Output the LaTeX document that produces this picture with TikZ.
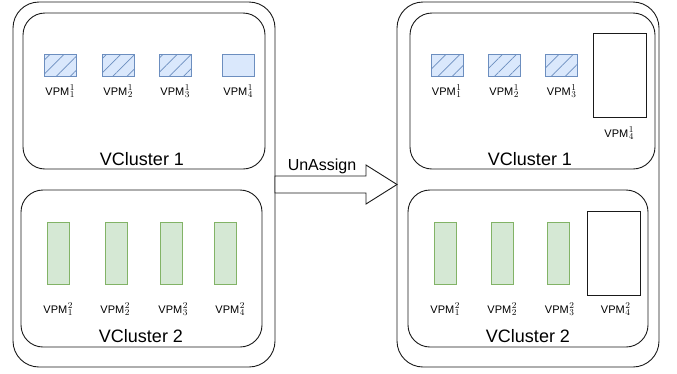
\documentclass[tikz,border=0pt]{standalone}
\usepackage{fontspec}
\setmainfont{Liberation Sans}
\usetikzlibrary{patterns.meta}
\definecolor{bluefill}{HTML}{DAE8FC}
\definecolor{bluedraw}{HTML}{6C8EBF}
\definecolor{greenfill}{HTML}{D5E8D4}
\definecolor{greendraw}{HTML}{82B366}
\definecolor{linegray}{HTML}{1A1A1A}
\newcommand\vpmlab[2]{VPM\kern0.6pt\rlap{\raisebox{4.8pt}{\fontsize{9}{9}\selectfont$#1$}}\raisebox{-2.7pt}{\fontsize{9}{9}\selectfont$#2$}}
\begin{document}
\begin{tikzpicture}[x=1pt,y=-1pt,
  outerbox/.style={draw=linegray,line width=0.9pt,rounded corners=26pt,inner sep=0pt},
  clusterbox/.style={draw=linegray,line width=0.9pt,rounded corners=22pt,inner sep=0pt},
  hatchbox/.style={draw=bluedraw,fill=bluefill,line width=0.9pt,inner sep=0pt,minimum width=32pt,minimum height=22pt,
    postaction={pattern={Lines[angle=45,distance=10pt,line width=0.7pt]},pattern color=bluedraw}},
  plainblue/.style={draw=bluedraw,fill=bluefill,line width=0.9pt,inner sep=0pt,minimum width=32pt,minimum height=22pt},
  greenbox/.style={draw=greendraw,fill=greenfill,line width=0.9pt,inner sep=0pt,minimum width=22pt,minimum height=62pt},
  emptybox/.style={draw=linegray,fill=white,line width=0.9pt,inner sep=0pt},
  vpm/.style={anchor=base,inner sep=0pt,font=\fontsize{11}{13}\selectfont},
  clabel/.style={anchor=base,inner sep=0pt,font=\fontsize{18}{21}\selectfont},
  arrowlabel/.style={anchor=base,inner sep=0pt,font=\fontsize{16}{19}\selectfont}]
\useasboundingbox (0,0) rectangle (677,373);
% outer boxes
\node[outerbox,minimum width=262pt,minimum height=365pt] (L) at (144,184.5) {};
\node[outerbox,minimum width=262pt,minimum height=365pt] (R) at (528,184.5) {};
% cluster boxes
\node[clusterbox,minimum width=242pt,minimum height=156pt] (L1) at (144,91) {};
\node[clusterbox,minimum width=241pt,minimum height=157pt] (L2) at (141.5,268.5) {};
\node[clusterbox,minimum width=245pt,minimum height=156pt] (R1) at (532.5,91) {};
\node[clusterbox,minimum width=240pt,minimum height=157pt] (R2) at (528,268.5) {};
% left top VPMs
\node[hatchbox] (a1) at (60.5,65) {};
\node[hatchbox] (a2) at (118,65) {};
\node[hatchbox] (a3) at (175,65) {};
\node[plainblue] (a4) at (238,65) {};
\node[vpm] (la1) at (60,95) {\vpmlab{1}{1}};
\node[vpm] (la2) at (118,95) {\vpmlab{1}{2}};
\node[vpm] (la3) at (175,95) {\vpmlab{1}{3}};
\node[vpm] (la4) at (238,95) {\vpmlab{1}{4}};
\node[clabel] (t1) at (142,165) {VCluster 1};
% left bottom VPMs
\node[greenbox] (b1) at (58,253) {};
\node[greenbox] (b2) at (116,253) {};
\node[greenbox] (b3) at (171,253) {};
\node[greenbox] (b4) at (225,253) {};
\node[vpm] (lb1) at (58,313) {\vpmlab{2}{1}};
\node[vpm] (lb2) at (115,313) {\vpmlab{2}{2}};
\node[vpm] (lb3) at (173,313) {\vpmlab{2}{3}};
\node[vpm] (lb4) at (230,313) {\vpmlab{2}{4}};
\node[clabel] (t2) at (141,342) {VCluster 2};
% right top VPMs
\node[hatchbox] (c1) at (447,65) {};
\node[hatchbox] (c2) at (504,65) {};
\node[hatchbox] (c3) at (561,65) {};
\node[emptybox,minimum width=53pt,minimum height=84pt] (c4) at (619.5,75) {};
\node[vpm] (lc1) at (446.5,95) {\vpmlab{1}{1}};
\node[vpm] (lc2) at (504,95) {\vpmlab{1}{2}};
\node[vpm] (lc3) at (561.5,95) {\vpmlab{1}{3}};
\node[vpm] (lc4) at (619,137) {\vpmlab{1}{4}};
\node[clabel] (t3) at (530,165) {VCluster 1};
% right bottom VPMs
\node[greenbox] (d1) at (445,253) {};
\node[greenbox] (d2) at (502,253) {};
\node[greenbox] (d3) at (558,253) {};
\node[emptybox,minimum width=53pt,minimum height=84pt] (d4) at (613.5,253) {};
\node[vpm] (ld1) at (445,313) {\vpmlab{2}{1}};
\node[vpm] (ld2) at (502,313) {\vpmlab{2}{2}};
\node[vpm] (ld3) at (559.5,313) {\vpmlab{2}{3}};
\node[vpm] (ld4) at (615.5,313) {\vpmlab{2}{4}};
\node[clabel] (t4) at (528,342) {VCluster 2};
% arrow
\draw[line width=0.9pt,draw=linegray,fill=white,line join=miter]
  (275,176) -- (366,176) -- (366,165) -- (397,184.5) -- (366,204) -- (366,193) -- (275,193) -- cycle;
\node[arrowlabel] (ua) at (322,170) {UnAssign};
\end{tikzpicture}
\end{document}
